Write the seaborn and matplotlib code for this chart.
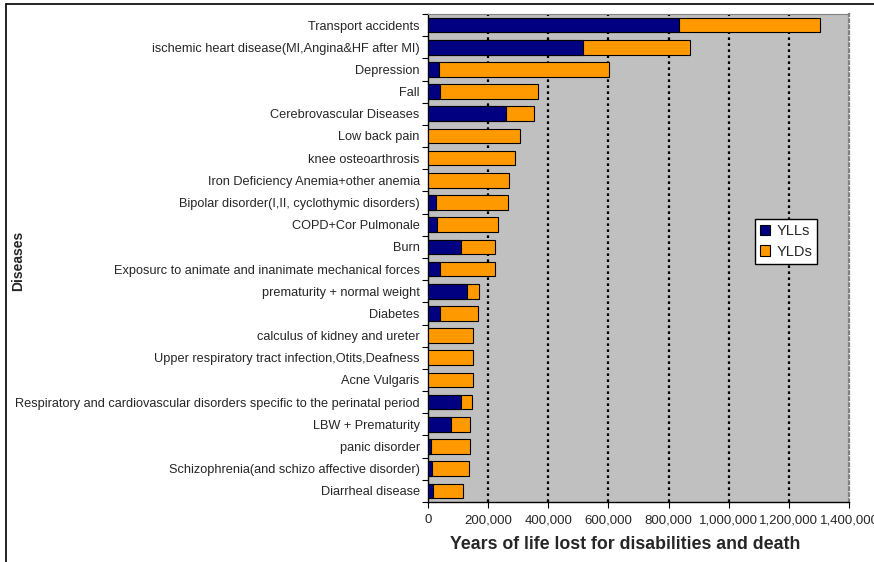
import numpy as np
import pandas as pd
import seaborn as sns
import matplotlib
matplotlib.use("Agg")
from matplotlib import pyplot as plt
from matplotlib.patches import Patch
from matplotlib.lines import Line2D
from matplotlib.ticker import FuncFormatter, FixedLocator

diseases = [
    "Transport accidents",
    "ischemic heart disease(MI,Angina&HF after MI)",
    "Depression",
    "Fall",
    "Cerebrovascular Diseases",
    "Low back pain",
    "knee osteoarthrosis",
    "Iron Deficiency Anemia+other anemia",
    "Bipolar disorder(I,II, cyclothymic disorders)",
    "COPD+Cor Pulmonale",
    "Burn",
    "Exposurc to animate and inanimate mechanical forces",
    "prematurity + normal weight",
    "Diabetes",
    "calculus of kidney and ureter",
    "Upper respiratory tract infection,Otits,Deafness",
    "Acne Vulgaris",
    "Respiratory and cardiovascular disorders specific to the perinatal period",
    "LBW + Prematurity",
    "panic disorder",
    "Schizophrenia(and schizo affective disorder)",
    "Diarrheal disease",
]
ylls = [836000, 514000, 38000, 41000, 258000, 0, 0, 0, 25000, 31000, 110000,
        41000, 130000, 41000, 0, 0, 0, 110000, 78000, 9000, 14500, 18000]
ylds = [467700, 358600, 564000, 325000, 94500, 306000, 290600, 270600, 242000,
        203000, 112000, 181000, 40000, 125000, 150000, 150000, 150000, 36000,
        62000, 131000, 121500, 98000]

df = pd.DataFrame({"disease": diseases, "YLLs": ylls, "YLDs": ylds})
df["total"] = df["YLLs"] + df["YLDs"]

navy = "#000080"
orange = "#FF9900"

sns.set_style("white")
plt.rcParams["font.family"] = ["Liberation Sans", "DejaVu Sans"]

fig = plt.figure(figsize=(8.74, 5.62), dpi=100)
ax = fig.add_axes([0.4897, 0.1068, 0.4817, 0.8683])
ax.set_facecolor("#C0C0C0")

# stacked: draw totals (orange) then YLLs (navy) over them
sns.barplot(data=df, x="total", y="disease", order=diseases, orient="h",
            color=orange, saturation=1, width=0.66, edgecolor="black",
            linewidth=0.8, ax=ax, zorder=3)
sns.barplot(data=df, x="YLLs", y="disease", order=diseases, orient="h",
            color=navy, saturation=1, width=0.66, edgecolor="black",
            linewidth=0.8, ax=ax, zorder=4)

ax.set_xlim(0, 1400000)
ax.set_ylim(len(diseases) - 0.5, -0.5)
ax.set_xticks(np.arange(0, 1400001, 200000))
ax.xaxis.set_major_formatter(FuncFormatter(lambda v, p: f"{int(v):,}"))
for xv in range(200000, 1400000, 200000):
    ax.axvline(xv, color="black", linestyle=(0, (1.2, 1.5)), linewidth=1.6, zorder=1)

ax.yaxis.set_minor_locator(FixedLocator(np.arange(-0.5, len(diseases), 1)))
ax.tick_params(axis="y", which="major", length=0, labelsize=9.2, pad=6)
ax.tick_params(axis="y", which="minor", length=4, direction="out", color="black", width=0.8, left=True)
ax.tick_params(axis="x", length=4, direction="out", color="black", width=0.8,
               bottom=True, labelsize=9.5, pad=5)

for s in ["left", "bottom"]:
    ax.spines[s].set_color("black")
    ax.spines[s].set_linewidth(1.0)
ax.spines["top"].set_color("#808080")
ax.spines["top"].set_linewidth(0.8)
ax.spines["right"].set_color("#808080")
ax.spines["right"].set_linestyle((0, (1.2, 1.5)))
ax.spines["right"].set_linewidth(1.6)

ax.set_xlabel("Years of life lost for disabilities and death", fontsize=12.8,
              fontweight="bold")
ax.xaxis.set_label_coords(0.468, -0.07)
ax.set_ylabel("")
fig.text(0.021, 0.535, "Diseases", rotation=90, fontsize=10, fontweight="bold",
         ha="center", va="center")

handles = [Patch(facecolor=navy, edgecolor="black", linewidth=0.8),
           Patch(facecolor=orange, edgecolor="black", linewidth=0.8)]
ax.legend(handles, ["YLLs", "YLDs"], loc="upper left", bbox_to_anchor=(0.777, 0.58),
          fancybox=False, framealpha=1, edgecolor="black", fontsize=10.5,
          handlelength=0.7, handleheight=0.7, handletextpad=0.4,
          borderpad=0.35, labelspacing=0.45, borderaxespad=0)

# outer frame lines (top and left)
fig.add_artist(Line2D([0.0069, 1.0], [0.9929, 0.9929], color="black", linewidth=1.2,
                      transform=fig.transFigure))
fig.add_artist(Line2D([0.0069, 0.0069], [0.0, 0.9929], color="black", linewidth=1.2,
                      transform=fig.transFigure))

fig.savefig("out.png", dpi=100)
